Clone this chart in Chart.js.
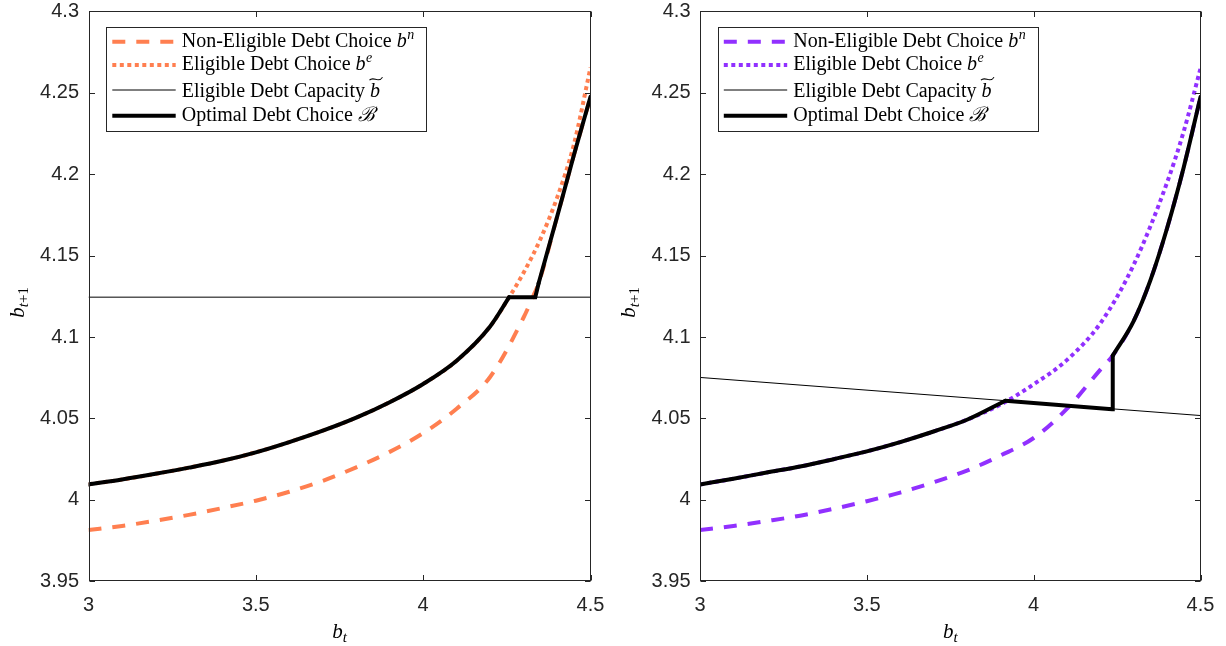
<!DOCTYPE html>
<html>
<head>
<meta charset="utf-8">
<script src="https://cdn.jsdelivr.net/npm/chart.js@4.4.1/dist/chart.umd.min.js"></script>
<style>
  body { margin: 0; background: #fff; }
  #wrap { position: relative; width: 1226px; height: 646px; }
  canvas { position: absolute; top: 0; }
</style>
</head>
<body>
<div id="wrap">
  <canvas id="left" width="613" height="646" style="left:0"></canvas>
  <canvas id="right" width="613" height="646" style="left:613px"></canvas>
</div>
<script>
// axis ticks (same for both panels)
var xTicks = [3, 3.5, 4, 4.5];
var yTicks = [3.95, 4, 4.05, 4.1, 4.15, 4.2, 4.25, 4.3];

// ---- left panel ----
var leftBeX = [3.0, 3.1, 3.2, 3.3, 3.4, 3.5, 3.6, 3.7, 3.8, 3.9, 4.0, 4.1, 4.2, 4.257, 4.3, 4.35, 4.4, 4.45, 4.5];
var leftBeY = [4.0095, 4.0125, 4.0160, 4.0198, 4.0240, 4.0292, 4.0355, 4.0425, 4.0505, 4.0600, 4.0712, 4.0855, 4.1065, 4.1245, 4.1395, 4.1600, 4.1855, 4.2180, 4.2655];
var leftBnX = [3.0, 3.1, 3.2, 3.3, 3.4, 3.5, 3.6, 3.7, 3.8, 3.9, 4.0, 4.1, 4.2, 4.3, 4.335, 4.345, 4.4, 4.45, 4.5];
var leftBnY = [3.9815, 3.9840, 3.9872, 3.9908, 3.9950, 3.9995, 4.0050, 4.0117, 4.0200, 4.0295, 4.0410, 4.0560, 4.0755, 4.1120, 4.1280, 4.1330, 4.1737, 4.2115, 4.2475];
var leftCapX = [3.0, 4.5];
var leftCapY = [4.1245, 4.1245];
// optimal choice: eligible part, capacity part, non-eligible part
var leftOptLowX = [3.0, 3.1, 3.2, 3.3, 3.4, 3.5, 3.6, 3.7, 3.8, 3.9, 4.0, 4.1, 4.2, 4.257];
var leftOptLowY = [4.0095, 4.0125, 4.0160, 4.0198, 4.0240, 4.0292, 4.0355, 4.0425, 4.0505, 4.0600, 4.0712, 4.0855, 4.1065, 4.1245];
var leftOptMidX = [4.257, 4.335, 4.345];
var leftOptMidY = [4.1245, 4.1245, 4.1330];
var leftOptHighX = [4.345, 4.4, 4.45, 4.5];
var leftOptHighY = [4.1330, 4.1737, 4.2115, 4.2475];

// ---- right panel ----
var rightBeX = [3.0, 3.1, 3.2, 3.3, 3.4, 3.5, 3.6, 3.7, 3.8, 3.9, 4.0, 4.1, 4.2, 4.3, 4.4, 4.45, 4.5];
var rightBeY = [4.0095, 4.0130, 4.0168, 4.0205, 4.0250, 4.0298, 4.0355, 4.0420, 4.0492, 4.0585, 4.0710, 4.0860, 4.1085, 4.1445, 4.1950, 4.2265, 4.2650];
var rightBnX = [3.0, 3.1, 3.2, 3.3, 3.4, 3.5, 3.6, 3.7, 3.8, 3.9, 4.0, 4.1, 4.2, 4.237, 4.3, 4.35, 4.4, 4.45, 4.5];
var rightBnY = [3.9815, 3.9840, 3.9870, 3.9903, 3.9945, 3.9992, 4.0045, 4.0108, 4.0180, 4.0272, 4.0380, 4.0560, 4.0800, 4.0886, 4.1100, 4.1350, 4.1670, 4.2045, 4.2475];
var rightCapX = [3.0, 4.5];
var rightCapY = [4.0752, 4.0518];
var rightOptLowX = [3.0, 3.1, 3.2, 3.3, 3.4, 3.5, 3.6, 3.7, 3.8, 3.915];
var rightOptLowY = [4.0095, 4.0130, 4.0168, 4.0205, 4.0250, 4.0298, 4.0355, 4.0420, 4.0492, 4.0609];
var rightOptMidX = [3.915, 4.235, 4.237];
var rightOptMidY = [4.0609, 4.0556, 4.0886];
var rightOptHighX = [4.237, 4.3, 4.35, 4.4, 4.45, 4.5];
var rightOptHighY = [4.0886, 4.1100, 4.1350, 4.1670, 4.2045, 4.2475];

var legendLabels = ['Non-Eligible Debt Choice ', 'Eligible Debt Choice ', 'Eligible Debt Capacity ', 'Optimal Debt Choice '];

var AXIS = '#262626';
var SERIF = '"Liberation Serif", "Times New Roman", serif';

function zip(xs, ys) {
    return xs.map(function(x, i) { return { x: x, y: ys[i] }; });
}

// draws b^n, b^e, b-tilde, calligraphic B after the plain text
function drawSymbol(ctx, x, y, kind) {
    ctx.font = 'italic 20px ' + SERIF;
    if (kind === 'B') {
        ctx.font = 'italic 20px "DejaVu Serif", ' + SERIF;
        ctx.fillText('\u212C', x, y);
        return;
    }
    ctx.fillText('b', x, y);
    var bw = ctx.measureText('b').width;
    if (kind === 'n' || kind === 'e') {
        ctx.font = 'italic 14px ' + SERIF;
        ctx.fillText(kind, x + bw + 0.5, y - 8);
    } else if (kind === 'tilde') {
        var x0 = x - 0.5, x1 = x + bw + 2.5, ty = y - 18;
        ctx.beginPath();
        ctx.lineWidth = 1.1;
        ctx.moveTo(x0, ty + 1.5);
        ctx.bezierCurveTo(x0 + (x1 - x0) * 0.3, ty - 3, x0 + (x1 - x0) * 0.7, ty + 5, x1, ty - 1.5);
        ctx.strokeStyle = '#000';
        ctx.stroke();
    }
}

var framePlugin = {
    id: 'frame',
    afterDatasetsDraw: function(chart, args, opts) {
        var ctx = chart.ctx, a = chart.chartArea;
        var xs = chart.scales.x, ys = chart.scales.y;
        var L = Math.round(a.left) + 0.5, R = Math.round(a.right) - 0.5;
        var T = Math.round(a.top) + 0.5, B = Math.round(a.bottom) - 0.5;
        ctx.save();
        ctx.strokeStyle = AXIS;
        ctx.lineWidth = 1;
        ctx.strokeRect(L, T, R - L, B - T);
        var tl = 5.5;
        ctx.beginPath();
        xs.ticks.forEach(function(t) {
            var px = Math.round(xs.getPixelForValue(t.value)) + 0.5;
            ctx.moveTo(px, B); ctx.lineTo(px, B - tl);
            ctx.moveTo(px, T); ctx.lineTo(px, T + tl);
        });
        ys.ticks.forEach(function(t) {
            var py = Math.round(ys.getPixelForValue(t.value)) + 0.5;
            ctx.moveTo(L, py); ctx.lineTo(L + tl, py);
            ctx.moveTo(R, py); ctx.lineTo(R - tl, py);
        });
        ctx.stroke();

        // legend box
        var lx = a.left + 17.5, ly = 26.7, lw = 320, lh = 104;
        ctx.fillStyle = '#fff';
        ctx.fillRect(lx, ly, lw, lh);
        ctx.strokeStyle = AXIS;
        ctx.lineWidth = 1;
        ctx.strokeRect(Math.round(lx) + 0.5, Math.round(ly) + 0.5, lw, lh);
        var lineY = [41.7, 65, 90, 115.7];
        var textY = [46.7, 70, 96.7, 120.7];
        var syms = ['n', 'e', 'tilde', 'B'];
        chart.data.datasets.forEach(function(ds) {
            if (ds.legendRow === undefined) return;
            var r = ds.legendRow;
            ctx.save();
            ctx.strokeStyle = ds.borderColor;
            ctx.lineWidth = ds.borderWidth;
            ctx.setLineDash(ds.borderDash || []);
            ctx.beginPath();
            ctx.moveTo(lx + 6.3, lineY[r]);
            ctx.lineTo(lx + 69.7, lineY[r]);
            ctx.stroke();
            ctx.restore();
            ctx.fillStyle = '#000';
            ctx.font = '20px ' + SERIF;
            ctx.textAlign = 'left';
            ctx.textBaseline = 'alphabetic';
            var tx = lx + 75.7;
            ctx.fillText(legendLabels[r], tx, textY[r]);
            drawSymbol(ctx, tx + ctx.measureText(legendLabels[r]).width, textY[r], syms[r]);
        });

        // axis titles b_t and b_{t+1}
        ctx.fillStyle = '#000';
        ctx.textAlign = 'left';
        ctx.textBaseline = 'alphabetic';
        ctx.font = 'italic 21px ' + SERIF;
        var bw = ctx.measureText('b').width;
        ctx.font = 'italic 15px ' + SERIF;
        var tw = ctx.measureText('t').width;
        var cx = (a.left + a.right) / 2 - (bw + tw) / 2;
        ctx.font = 'italic 21px ' + SERIF;
        ctx.fillText('b', cx, 638);
        ctx.font = 'italic 15px ' + SERIF;
        ctx.fillText('t', cx + bw, 642);

        ctx.save();
        ctx.font = 'italic 15px ' + SERIF;
        var sw = ctx.measureText('t').width;
        ctx.font = '15px ' + SERIF;
        sw += ctx.measureText('+1').width;
        var cy = (a.top + a.bottom) / 2 + 6;
        ctx.translate(a.left - 65, cy);
        ctx.rotate(-Math.PI / 2);
        var sx = -(bw + sw) / 2;
        ctx.font = 'italic 21px ' + SERIF;
        ctx.fillText('b', sx, 0);
        ctx.font = 'italic 15px ' + SERIF;
        ctx.fillText('t', sx + bw, 4);
        var tt = ctx.measureText('t').width;
        ctx.font = '15px ' + SERIF;
        ctx.fillText('+1', sx + bw + tt, 4);
        ctx.restore();

        ctx.restore();
    }
};

function noPad(s) {
    s.paddingTop = 0; s.paddingBottom = 0; s.paddingLeft = 0; s.paddingRight = 0;
}

function makePanel(canvasId, color, p) {
    var thick = 4;
    var datasets = [
        { data: zip(p.optLowX, p.optLowY), borderColor: '#000', borderWidth: thick, cubicInterpolationMode: 'monotone',
          borderCapStyle: 'round', order: 0, legendRow: 3 },
        { data: zip(p.optMidX, p.optMidY), borderColor: '#000', borderWidth: thick, tension: 0,
          borderCapStyle: 'round', borderJoinStyle: 'miter', order: 0 },
        { data: zip(p.optHighX, p.optHighY), borderColor: '#000', borderWidth: thick, cubicInterpolationMode: 'monotone',
          borderCapStyle: 'round', order: 0 },
        { data: zip(p.capX, p.capY), borderColor: '#000', borderWidth: 1, tension: 0, order: 1, legendRow: 2 },
        { data: zip(p.beX, p.beY), borderColor: color, borderWidth: 4, borderDash: [4, 3.5],
          cubicInterpolationMode: 'monotone', order: 2, legendRow: 1 },
        { data: zip(p.bnX, p.bnY), borderColor: color, borderWidth: 4, borderDash: [13, 11],
          cubicInterpolationMode: 'monotone', order: 3, legendRow: 0 }
    ];
    var tickFont = { family: '"Liberation Sans", Arial, sans-serif', size: 20 };
    return new Chart(document.getElementById(canvasId).getContext('2d'), {
        type: 'line',
        data: { datasets: datasets },
        options: {
            responsive: false,
            animation: false,
            events: [],
            elements: { point: { radius: 0 } },
            layout: { padding: { left: 0, right: p.padRight, top: 11.4, bottom: 0 } },
            plugins: { legend: { display: false }, tooltip: { enabled: false } },
            scales: {
                x: {
                    type: 'linear', min: 3, max: 4.5,
                    afterBuildTicks: function(s) { s.ticks = xTicks.map(function(v) { return { value: v }; }); },
                    afterFit: function(s) { s.height = 64.7; noPad(s); },
                    grid: { display: false, drawTicks: false },
                    border: { display: false },
                    ticks: { font: tickFont, color: AXIS, padding: 12, maxRotation: 0, autoSkip: false,
                             callback: function(v) { return String(v); } }
                },
                y: {
                    type: 'linear', min: 3.95, max: 4.3,
                    afterBuildTicks: function(s) { s.ticks = yTicks.map(function(v) { return { value: v }; }); },
                    afterFit: function(s) { s.width = p.yWidth; noPad(s); },
                    grid: { display: false, drawTicks: false },
                    border: { display: false },
                    ticks: { font: tickFont, color: AXIS, padding: 9.5, autoSkip: false,
                             callback: function(v) { return String(Number(v.toFixed(2))); } }
                }
            }
        },
        plugins: [framePlugin]
    });
}

makePanel('left', '#FF7F50', {
    beX: leftBeX, beY: leftBeY, bnX: leftBnX, bnY: leftBnY, capX: leftCapX, capY: leftCapY,
    optLowX: leftOptLowX, optLowY: leftOptLowY, optMidX: leftOptMidX, optMidY: leftOptMidY,
    optHighX: leftOptHighX, optHighY: leftOptHighY,
    yWidth: 88.5, padRight: 22.5
});
makePanel('right', '#9130FF', {
    beX: rightBeX, beY: rightBeY, bnX: rightBnX, bnY: rightBnY, capX: rightCapX, capY: rightCapY,
    optLowX: rightOptLowX, optLowY: rightOptLowY, optMidX: rightOptMidX, optMidY: rightOptMidY,
    optHighX: rightOptHighX, optHighY: rightOptHighY,
    yWidth: 87, padRight: 25.5
});
</script>
</body>
</html>
